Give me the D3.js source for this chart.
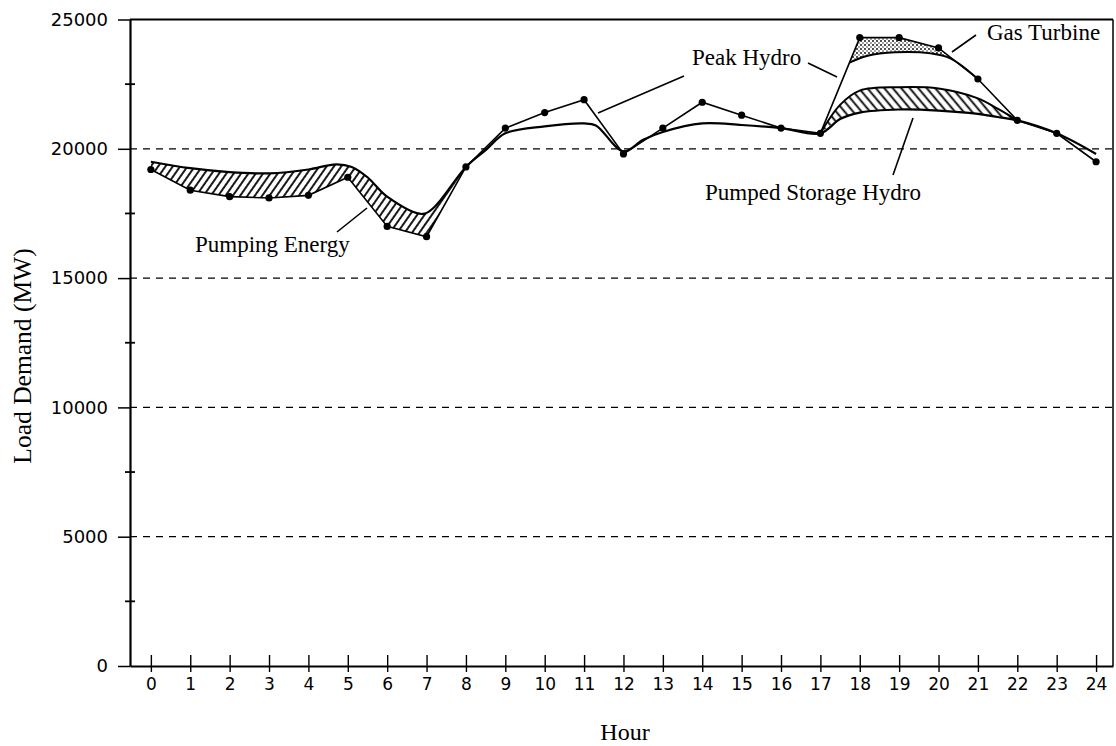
<!DOCTYPE html>
<html>
<head>
<meta charset="utf-8">
<script src="https://cdn.jsdelivr.net/npm/d3@7"></script>
<style>
  body { margin: 0; background: #fff; }
  svg { display: block; }
</style>
</head>
<body>
<svg id="chart" width="1116" height="746"></svg>
<script>
// hourly load demand (dots)
const hours = [0, 1, 2, 3, 4, 5, 6, 7, 8, 9, 10, 11, 12, 13, 14, 15, 16, 17, 18, 19, 20, 21, 22, 23, 24];
const loadMW = [19200, 18400, 18150, 18100, 18200, 18900, 17000, 16600, 19300, 20800, 21400, 21900,
                19800, 20800, 21800, 21300, 20800, 20600, 24300, 24300, 23900, 22700, 21100, 20600, 19500];

// smooth base generation curve
const thermalHours = [0, 1, 2, 3, 4, 4.7, 5.1, 5.5, 6, 6.9, 7.2, 8, 8.5, 9, 10, 11, 11.3, 12, 12.5, 13,
                      14, 15, 16, 17, 17.5, 18, 19, 20, 21, 21.5, 22, 23, 24];
const thermalMW = [19500, 19250, 19100, 19050, 19200, 19400, 19300, 18900, 18150, 17480, 17750, 19300,
                   19950, 20600, 20870, 20980, 20900, 19900, 20350, 20650, 20980, 20920, 20800, 20600,
                   21150, 21400, 21520, 21480, 21350, 21230, 21100, 20600, 19800];

// top of pumped storage band
const storageHours = [17, 17.5, 18, 19, 20, 21, 21.5, 22];
const storageTopMW = [20600, 21700, 22250, 22380, 22330, 21950, 21550, 21100];

// top of peak hydro (bottom of gas turbine band)
const peakHours = [17.74, 18.2, 18.9, 19.8, 20.3, 21];
const peakTopMW = [23330, 23600, 23730, 23690, 23500, 22700];

const yTicks = [0, 5000, 10000, 15000, 20000, 25000];
const yMinor = [2500, 7500, 12500, 17500, 22500];
const gridValues = [5000, 10000, 15000, 20000];

const svg = d3.select('#chart');

const x = d3.scaleLinear().domain([-0.53, 24.43]).range([130, 1113]);
const y = d3.scaleLinear().domain([0, 25000]).range([666, 19.5]);

const smooth = d3.line().x(d => x(d[0])).y(d => y(d[1])).curve(d3.curveCatmullRom.alpha(0.5));
const straight = d3.line().x(d => x(d[0])).y(d => y(d[1]));

const load = hours.map((h, i) => [h, loadMW[i]]);
const thermal = thermalHours.map((h, i) => [h, thermalMW[i]]);
const storage = storageHours.map((h, i) => [h, storageTopMW[i], thermalMW[thermalHours.indexOf(h)]]);
const peak = peakHours.map((h, i) => [h, peakTopMW[i]]);

// patterns
const defs = svg.append('defs');
let hatch = (id, angle, gap) => {
  const p = defs.append('pattern')
    .attr('id', id)
    .attr('patternUnits', 'userSpaceOnUse')
    .attr('width', gap).attr('height', gap)
    .attr('patternTransform', 'rotate(' + angle + ')');
  p.append('line')
    .attr('x1', gap / 2).attr('y1', 0)
    .attr('x2', gap / 2).attr('y2', gap)
    .attr('stroke', '#000').attr('stroke-width', 1.8);
};
hatch('pumpHatch', 35, 6);
hatch('storeHatch', -40, 6.5);

const dots = defs.append('pattern')
  .attr('id', 'gasDots')
  .attr('patternUnits', 'userSpaceOnUse')
  .attr('width', 4).attr('height', 4);
dots.append('circle').attr('cx', 1).attr('cy', 1).attr('r', 0.9).attr('fill', '#000');
dots.append('circle').attr('cx', 3).attr('cy', 3).attr('r', 0.7).attr('fill', '#000');

// frame + grid
svg.append('line')
  .attr('x1', 130).attr('x2', x(24.43))
  .attr('y1', y(25000)).attr('y2', y(25000))
  .attr('stroke', '#000').attr('stroke-width', 2);
svg.append('line')
  .attr('x1', x(24.43)).attr('x2', x(24.43))
  .attr('y1', y(25000)).attr('y2', y(0))
  .attr('stroke', '#000').attr('stroke-width', 1.5);

svg.append('g').selectAll('line').data(gridValues).enter().append('line')
  .attr('x1', 130).attr('x2', x(24.43))
  .attr('y1', d => y(d)).attr('y2', d => y(d))
  .attr('stroke', '#000').attr('stroke-width', 1.2)
  .attr('stroke-dasharray', '7,6');

// filled bands
let pumpTop = thermal.filter(d => d[0] <= 8);
let pumpBottom = load.filter(d => d[0] <= 8).reverse();
svg.append('path')
  .attr('d', smooth(pumpTop) + straight(pumpBottom).replace('M', 'L') + 'Z')
  .attr('fill', 'url(#pumpHatch)');

const storageArea = d3.area()
  .x(d => x(d[0])).y0(d => y(d[2])).y1(d => y(d[1]))
  .curve(d3.curveCatmullRom.alpha(0.5));
svg.append('path')
  .attr('d', storageArea(storage))
  .attr('fill', 'url(#storeHatch)');

let gasTop = [peak[0]].concat(load.filter(d => d[0] >= 18 && d[0] <= 21));
svg.append('path')
  .attr('d', straight(gasTop) + smooth(peak.slice().reverse()).replace('M', 'L') + 'Z')
  .attr('fill', 'url(#gasDots)');

// curves
svg.append('path').attr('d', smooth(thermal))
  .attr('fill', 'none').attr('stroke', '#000').attr('stroke-width', 2.2);
svg.append('path').attr('d', smooth(storage.map(d => [d[0], d[1]])))
  .attr('fill', 'none').attr('stroke', '#000').attr('stroke-width', 2);
svg.append('path').attr('d', smooth(peak))
  .attr('fill', 'none').attr('stroke', '#000').attr('stroke-width', 2);
svg.append('path').attr('d', straight(load))
  .attr('fill', 'none').attr('stroke', '#000').attr('stroke-width', 1.6);

svg.append('g').selectAll('circle').data(load).enter().append('circle')
  .attr('cx', d => x(d[0])).attr('cy', d => y(d[1]))
  .attr('r', 3.6).attr('fill', '#000');

// axes
const yAxis = d3.axisLeft(y).tickValues(yTicks).tickSize(12).tickSizeOuter(0).tickPadding(10)
  .tickFormat(d3.format('d'));
const gy = svg.append('g').attr('transform', 'translate(130,0)').call(yAxis);
gy.select('.domain').attr('stroke-width', 2.2);
gy.selectAll('.tick line').attr('stroke-width', 1.5);
gy.selectAll('text').attr('font-family', 'DejaVu Sans').attr('font-size', 18).attr('fill', '#000');

svg.append('g').selectAll('line').data(yMinor).enter().append('line')
  .attr('x1', 125).attr('x2', 135)
  .attr('y1', d => y(d)).attr('y2', d => y(d))
  .attr('stroke', '#000').attr('stroke-width', 1.8);

const xAxis = d3.axisBottom(x).tickValues(hours).tickSize(6).tickSizeOuter(0).tickPadding(6)
  .tickFormat(d3.format('d'));
const gx = svg.append('g').attr('transform', 'translate(0,666)').call(xAxis);
gx.select('.domain').attr('stroke-width', 2);
gx.selectAll('.tick line').attr('y1', -11).attr('y2', 6).attr('stroke-width', 1.4);
gx.selectAll('text').attr('font-family', 'DejaVu Sans').attr('font-size', 17).attr('fill', '#000');

// titles
const serif = 'Liberation Serif, Times New Roman, serif';
svg.append('text')
  .attr('transform', 'translate(31,356) rotate(-90)')
  .attr('text-anchor', 'middle')
  .attr('font-family', serif).attr('font-size', 25.5)
  .text('Load Demand (MW)');
svg.append('text')
  .attr('x', 625).attr('y', 740)
  .attr('text-anchor', 'middle')
  .attr('font-family', serif).attr('font-size', 24)
  .text('Hour');

// annotations
const notes = [
  { text: 'Pumping Energy', x: 195, y: 252 },
  { text: 'Peak Hydro', x: 692, y: 65 },
  { text: 'Gas Turbine', x: 987, y: 40 },
  { text: 'Pumped Storage Hydro', x: 705, y: 200 }
];
svg.append('g').selectAll('text').data(notes).enter().append('text')
  .attr('x', d => d.x).attr('y', d => d.y)
  .attr('font-family', serif).attr('font-size', 23)
  .text(d => d.text);

const pointers = [
  [337, 232, 367, 208],
  [598, 113, 684, 76],
  [808, 63, 837, 77],
  [976, 35, 952, 52],
  [893, 175, 913, 118]
];
svg.append('g').selectAll('line').data(pointers).enter().append('line')
  .attr('x1', d => d[0]).attr('y1', d => d[1])
  .attr('x2', d => d[2]).attr('y2', d => d[3])
  .attr('stroke', '#000').attr('stroke-width', 1.6);
</script>
</body>
</html>
